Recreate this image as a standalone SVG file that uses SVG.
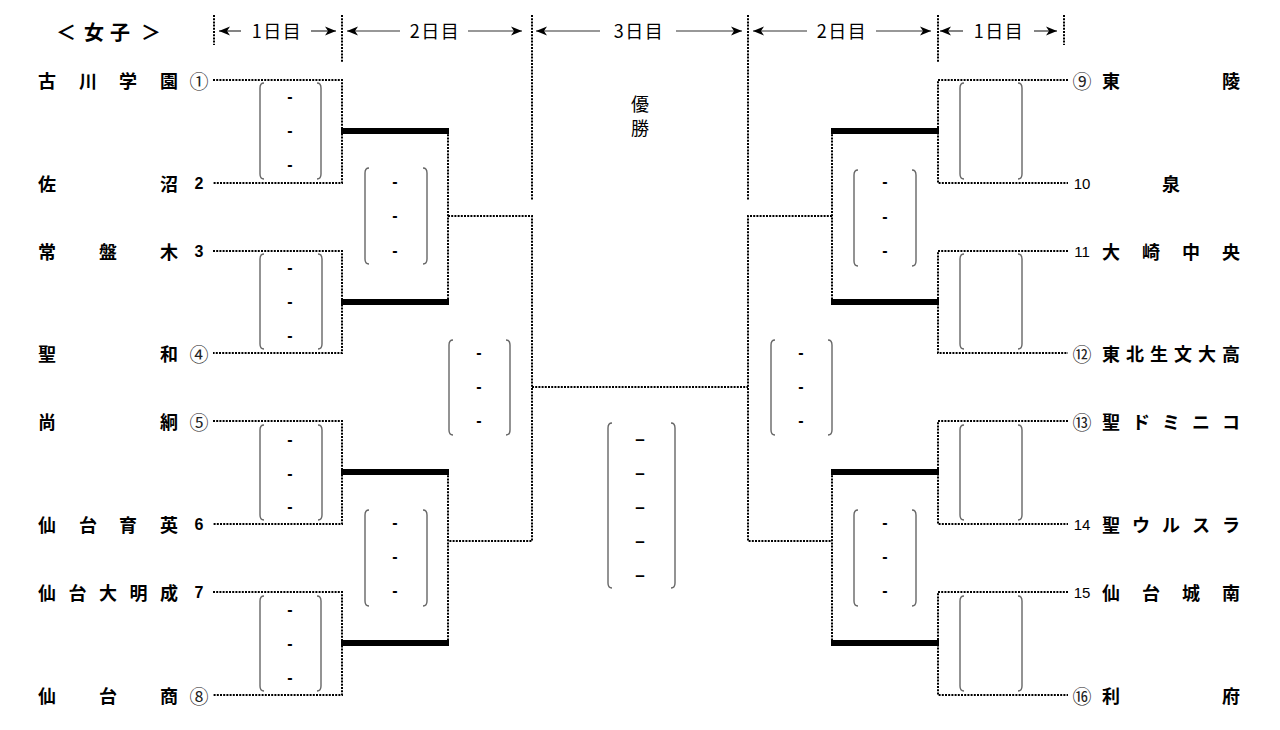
<svg xmlns="http://www.w3.org/2000/svg" width="1280" height="730" viewBox="0 0 1280 730">
<style>
.dot{fill:none;stroke:#000;stroke-width:2;stroke-dasharray:2 1.2}
.thick{fill:none;stroke:#000;stroke-width:6}
.arr{fill:none;stroke:#333;stroke-width:1.2}
.par{fill:none;stroke:#666;stroke-width:1.4}
.hdr{font-family:"Noto Sans CJK JP","Noto Sans",sans-serif;font-size:18px;letter-spacing:1.5px;fill:#000;text-anchor:middle;dominant-baseline:central}
.ttl{font-family:"Noto Sans CJK JP",sans-serif;font-size:20px;font-weight:700;fill:#000;dominant-baseline:central}
.nm{font-family:"Noto Sans CJK JP",sans-serif;font-size:18px;font-weight:700;fill:#000;dominant-baseline:central}
.num{font-family:"Liberation Sans",sans-serif;font-size:16px;font-weight:700;fill:#000;text-anchor:middle;dominant-baseline:central}
.numr{font-family:"Liberation Sans",sans-serif;font-size:15px;fill:#000;text-anchor:middle;dominant-baseline:central}
.cir{font-family:"Noto Sans CJK JP",sans-serif;font-size:19px;fill:#222;text-anchor:middle;dominant-baseline:central}
.ds{font-family:"Liberation Sans",sans-serif;font-size:16px;font-weight:700;fill:#000;text-anchor:middle}
.dl{font-family:"Liberation Sans",sans-serif;font-size:17px;font-weight:700;fill:#000;text-anchor:middle}
.win{font-family:"Noto Sans CJK JP",sans-serif;font-size:18px;fill:#000;text-anchor:middle;dominant-baseline:central}
</style>
<defs>
<marker id="ah" markerUnits="userSpaceOnUse" markerWidth="12" markerHeight="10" refX="11" refY="5" orient="auto">
<path d="M0,0.5 L11,5 L0,9.5 L3,5 Z" fill="#000"/>
</marker>
</defs>
<rect width="1280" height="730" fill="#fff"/>

<g id="header">
<text class="ttl" x="56" y="31">＜</text>
<text class="ttl" x="84" y="31">女</text>
<text class="ttl" x="110" y="31">子</text>
<text class="ttl" x="141" y="31">＞</text>
<path class="dot" d="M214,15V45 M342,15V63 M532,15V200 M748,15V200 M938,15V63 M1064,15V45"/>
<path class="arr" marker-end="url(#ah)" d="M241,31H219"/>
<path class="arr" marker-end="url(#ah)" d="M311,31H336"/>
<text class="hdr" x="277" y="30">1日目</text>
<path class="arr" marker-end="url(#ah)" d="M400,31H347"/>
<path class="arr" marker-end="url(#ah)" d="M468,31H522"/>
<text class="hdr" x="435" y="30">2日目</text>
<path class="arr" marker-end="url(#ah)" d="M600,31H536"/>
<path class="arr" marker-end="url(#ah)" d="M676,31H742"/>
<text class="hdr" x="639" y="30">3日目</text>
<path class="arr" marker-end="url(#ah)" d="M807,31H753"/>
<path class="arr" marker-end="url(#ah)" d="M876,31H931"/>
<text class="hdr" x="842" y="30">2日目</text>
<path class="arr" marker-end="url(#ah)" d="M963,31H940"/>
<path class="arr" marker-end="url(#ah)" d="M1034,31H1057"/>
<text class="hdr" x="999" y="30">1日目</text>
</g>

<g id="winner">
<text class="win" x="640" y="103">優</text>
<text class="win" x="640" y="127">勝</text>
</g>

<g id="connectors">
<path class="dot" d="M213,80H342V183H213 M213,251H342V353H213 M213,421H342V524H213 M213,592H342V695H213"/>
<path class="dot" d="M448,131V302 M448,472V643 M448,216H532V541H448 M532,387H748"/>
<path class="dot" d="M1068,80H938V183H1068 M1068,251H938V353H1068 M1068,421H938V524H1068 M1068,592H938V695H1068"/>
<path class="dot" d="M832,131V302 M832,472V643 M832,216H748V541H832"/>
<path class="thick" d="M341,131H449 M341,302H449 M341,472H449 M341,643H449"/>
<path class="thick" d="M831,131H939 M831,302H939 M831,472H939 M831,643H939"/>
</g>

<g id="team-1"><text class="nm" x="38 79 119 160" y="80">古川学園</text><text class="cir" x="199" y="80">①</text></g>
<g id="team-2"><text class="nm" x="38 160" y="183">佐沼</text><text class="num" x="199" y="183">2</text></g>
<g id="team-3"><text class="nm" x="38 99 160" y="251">常盤木</text><text class="num" x="199" y="251">3</text></g>
<g id="team-4"><text class="nm" x="38 160" y="353">聖和</text><text class="cir" x="199" y="353">④</text></g>
<g id="team-5"><text class="nm" x="38 160" y="421">尚絅</text><text class="cir" x="199" y="421">⑤</text></g>
<g id="team-6"><text class="nm" x="38 79 119 160" y="524">仙台育英</text><text class="num" x="199" y="524">6</text></g>
<g id="team-7"><text class="nm" x="38 68.5 99 129.5 160" y="592">仙台大明成</text><text class="num" x="199" y="592">7</text></g>
<g id="team-8"><text class="nm" x="38 99 160" y="695">仙台商</text><text class="cir" x="199" y="695">⑧</text></g>

<g id="team-9"><text class="cir" x="1082" y="80">⑨</text><text class="nm" x="1102 1222" y="80">東陵</text></g>
<g id="team-10"><text class="numr" x="1082" y="183">10</text><text class="nm" x="1162" y="183">泉</text></g>
<g id="team-11"><text class="numr" x="1082" y="251">11</text><text class="nm" x="1102 1142 1182 1222" y="251">大崎中央</text></g>
<g id="team-12"><text class="cir" x="1082" y="353">⑫</text><text class="nm" x="1102 1126 1150 1174 1198 1222" y="353">東北生文大高</text></g>
<g id="team-13"><text class="cir" x="1082" y="421">⑬</text><text class="nm" x="1102 1132 1162 1192 1222" y="421">聖ドミニコ</text></g>
<g id="team-14"><text class="numr" x="1082" y="524">14</text><text class="nm" x="1102 1132 1162 1192 1222" y="524">聖ウルスラ</text></g>
<g id="team-15"><text class="numr" x="1082" y="592">15</text><text class="nm" x="1102 1142 1182 1222" y="592">仙台城南</text></g>
<g id="team-16"><text class="cir" x="1082" y="695">⑯</text><text class="nm" x="1102 1222" y="695">利府</text></g>

<g id="score-L1a"><path class="par" d="M264,83Q260,83 260,88V174Q260,179 264,179 M317,83Q321,83 321,88V174Q321,179 317,179"/><text class="ds" x="290" y="101.5">-</text><text class="ds" x="290" y="135.5">-</text><text class="ds" x="290" y="169.5">-</text></g>
<g id="score-L1b"><path class="par" d="M264,254Q260,254 260,259V344Q260,349 264,349 M318,254Q322,254 322,259V344Q322,349 318,349"/><text class="ds" x="290" y="273">-</text><text class="ds" x="290" y="307">-</text><text class="ds" x="290" y="341">-</text></g>
<g id="score-L1c"><path class="par" d="M264,425Q260,425 260,430V515Q260,520 264,520 M318,425Q322,425 322,430V515Q322,520 318,520"/><text class="ds" x="290" y="444.5">-</text><text class="ds" x="290" y="478.5">-</text><text class="ds" x="290" y="512">-</text></g>
<g id="score-L1d"><path class="par" d="M264,596Q260,596 260,601V686Q260,691 264,691 M317,596Q321,596 321,601V686Q321,691 317,691"/><text class="ds" x="290" y="614.5">-</text><text class="ds" x="290" y="649">-</text><text class="ds" x="290" y="683">-</text></g>
<g id="score-L2a"><path class="par" d="M369,168Q365,168 365,173V259Q365,264 369,264 M423,168Q427,168 427,173V259Q427,264 423,264"/><text class="ds" x="395" y="187">-</text><text class="ds" x="395" y="221">-</text><text class="ds" x="395" y="256">-</text></g>
<g id="score-L2b"><path class="par" d="M369,510Q365,510 365,515V601Q365,606 369,606 M423,510Q427,510 427,515V601Q427,606 423,606"/><text class="ds" x="395" y="527.5">-</text><text class="ds" x="395" y="561.5">-</text><text class="ds" x="395" y="595.5">-</text></g>
<g id="score-L3"><path class="par" d="M453,340Q449,340 449,345V430Q449,435 453,435 M506,340Q510,340 510,345V430Q510,435 506,435"/><text class="ds" x="479" y="357.5">-</text><text class="ds" x="479" y="392">-</text><text class="ds" x="479" y="426">-</text></g>
<g id="score-final"><path class="par" d="M612,423Q608,423 608,428V583Q608,588 612,588 M671,423Q675,423 675,428V583Q675,588 671,588"/><text class="dl" x="640" y="444.5">–</text><text class="dl" x="640" y="478.5">–</text><text class="dl" x="640" y="512.5">–</text><text class="dl" x="640" y="546.5">–</text><text class="dl" x="640" y="580.5">–</text></g>
<g id="score-R3"><path class="par" d="M775,340Q771,340 771,345V430Q771,435 775,435 M828,340Q832,340 832,345V430Q832,435 828,435"/><text class="ds" x="801" y="357.5">-</text><text class="ds" x="801" y="392">-</text><text class="ds" x="801" y="426">-</text></g>
<g id="score-R2a"><path class="par" d="M858,170Q854,170 854,175V261Q854,266 858,266 M912,170Q916,170 916,175V261Q916,266 912,266"/><text class="ds" x="885" y="186.5">-</text><text class="ds" x="885" y="221.5">-</text><text class="ds" x="885" y="256">-</text></g>
<g id="score-R2b"><path class="par" d="M858,510Q854,510 854,515V601Q854,606 858,606 M912,510Q916,510 916,515V601Q916,606 912,606"/><text class="ds" x="885" y="527.5">-</text><text class="ds" x="885" y="561.5">-</text><text class="ds" x="885" y="595.5">-</text></g>
<g id="score-R1a"><path class="par" d="M964,83Q960,83 960,88V174Q960,179 964,179 M1018,83Q1022,83 1022,88V174Q1022,179 1018,179"/></g>
<g id="score-R1b"><path class="par" d="M964,254Q960,254 960,259V344Q960,349 964,349 M1018,254Q1022,254 1022,259V344Q1022,349 1018,349"/></g>
<g id="score-R1c"><path class="par" d="M964,425Q960,425 960,430V515Q960,520 964,520 M1018,425Q1022,425 1022,430V515Q1022,520 1018,520"/></g>
<g id="score-R1d"><path class="par" d="M964,596Q960,596 960,601V686Q960,691 964,691 M1018,596Q1022,596 1022,601V686Q1022,691 1018,691"/></g>
</svg>
